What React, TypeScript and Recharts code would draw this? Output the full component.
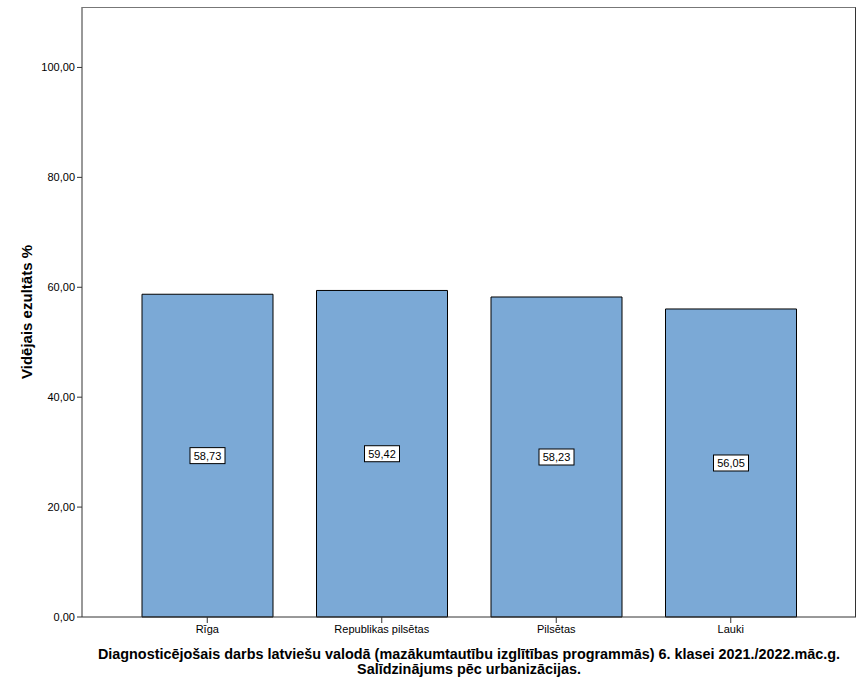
import React from 'react';
import { BarChart, Bar, XAxis, YAxis, LabelList, Label } from 'recharts';

const categories = ['Rīga', 'Republikas pilsētas', 'Pilsētas', 'Lauki'];
const scores = [58.73, 59.42, 58.23, 56.05];
const yTicks = [0, 20, 40, 60, 80, 100];
const titleLines = [
  'Diagnosticējošais darbs latviešu valodā (mazākumtautību izglītības programmās) 6. klasei 2021./2022.māc.g.',
  'Salīdzinājums pēc urbanizācijas.',
];

const FONT = 'Arial, "Liberation Sans", sans-serif';

const fmt = (v: number) => v.toFixed(2).replace('.', ',');

const ValueBox = (props: any) => {
  const { x, y, width, height, value } = props;
  const cx = x + width / 2;
  const cy = y + height / 2;
  const text = fmt(value);
  const w = text.length * 6.2 + 4;
  return (
    <g>
      <rect x={cx - w / 2} y={cy - 8} width={w} height={16} fill="#fff" stroke="#000" strokeWidth={1} />
      <text x={cx} y={cy + 4} textAnchor="middle" fontSize={11} fontFamily={FONT} fill="#000">
        {text}
      </text>
    </g>
  );
};

const TitleLabel = (props: any) => {
  const vb = props.viewBox || {};
  const cx = vb.x + vb.width / 2;
  return (
    <g>
      {titleLines.map((t, i) => (
        <text key={i} x={cx} y={vb.y + 42 + i * 15} textAnchor="middle" fontSize={14.4} fontWeight="bold" fontFamily={FONT} fill="#000">
          {t}
        </text>
      ))}
    </g>
  );
};

const data = categories.map((c, i) => ({ name: c, value: scores[i] }));

export default function App() {
  return (
    <div style={{ position: 'absolute', left: 0, top: 0, width: 865, height: 692, background: '#fff' }}>
      <BarChart width={865} height={692} data={data} margin={{ top: 7, right: 9, bottom: 0, left: 0 }} barSize={131}>
        <XAxis
          dataKey="name"
          height={75}
          padding={{ left: 38, right: 38 }}
          axisLine={{ stroke: '#333' }}
          tickLine={{ stroke: '#333' }}
          tickSize={6}
          tick={{ fontSize: 11, fill: '#000', fontFamily: FONT }}
          interval={0}
        >
          <Label content={<TitleLabel />} />
        </XAxis>
        <YAxis
          width={82}
          domain={[0, 111]}
          ticks={yTicks}
          tickFormatter={fmt}
          axisLine={{ stroke: '#333' }}
          tickLine={{ stroke: '#333' }}
          tickSize={5}
          tick={{ fontSize: 11, fill: '#000', fontFamily: FONT }}
        >
          <Label
            value="Vidējais ezultāts %"
            angle={-90}
            position="insideLeft"
            offset={27}
            style={{ fontSize: 15, fontWeight: 'bold', fill: '#000', fontFamily: FONT, textAnchor: 'middle' }}
          />
        </YAxis>
        <Bar dataKey="value" fill="#7BA9D6" stroke="#000" strokeWidth={1} isAnimationActive={false}>
          <LabelList dataKey="value" content={<ValueBox />} />
        </Bar>
      </BarChart>
      <div
        style={{
          position: 'absolute',
          left: 82,
          top: 7,
          width: 774,
          height: 610,
          borderTop: '1px solid #777',
          borderRight: '1px solid #333',
          boxSizing: 'border-box',
          pointerEvents: 'none',
        }}
      />
    </div>
  );
}
